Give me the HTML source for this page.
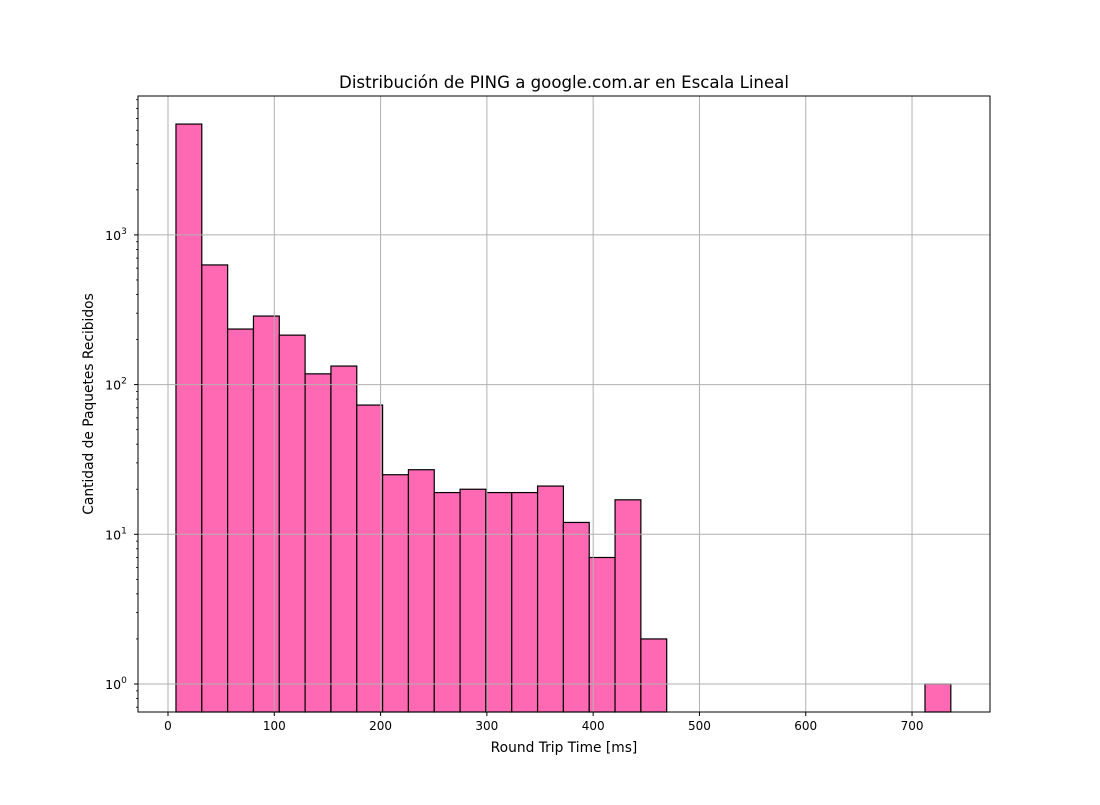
<!DOCTYPE html>
<html><head><meta charset="utf-8"><style>
body{margin:0;background:#fff}
svg text{font-family:"DejaVu Sans","Liberation Sans",sans-serif;fill:#000}
</style></head><body>
<svg id="chart" width="1100" height="800" viewBox="0 0 1100 800" xmlns="http://www.w3.org/2000/svg">
<rect width="1100" height="800" fill="#fff"/>
<text x="564" y="88" font-size="16.6" text-anchor="middle">Distribución de PING a google.com.ar en Escala Lineal</text>
<text x="564" y="752" font-size="13.8" text-anchor="middle">Round Trip Time [ms]</text>
<text transform="translate(93,404) rotate(-90)" font-size="13.8" text-anchor="middle">Cantidad de Paquetes Recibidos</text>
<g id="bars"></g>
<g id="grid"></g>
<g id="axes"></g>
</svg>
<script>
const binStart = 7.5;
const binWidth = 24.3;
const counts = [5500, 630, 235, 287, 214, 118, 133, 73, 25, 27, 19, 20, 19, 19, 21, 12, 7, 17, 2, 0, 0, 0, 0, 0, 0, 0, 0, 0, 0, 1];
const xTicks = [0, 100, 200, 300, 400, 500, 600, 700];
const yTickExps = [0, 1, 2, 3];

const L = 138, R = 990, T = 96, B = 712;
const x = v => 168 + v * 1.0629;
const y = v => 684 - Math.log10(v) * 149.7;
const NS = 'http://www.w3.org/2000/svg';
function mk(tag, attrs, parent) {
  const e = document.createElementNS(NS, tag);
  for (const k in attrs) e.setAttribute(k, attrs[k]);
  parent.appendChild(e);
  return e;
}
const gb = document.getElementById('bars'), gg = document.getElementById('grid'), ga = document.getElementById('axes');
counts.forEach((c, i) => {
  if (c <= 0) return;
  const x0 = x(binStart + i * binWidth), x1 = x(binStart + (i + 1) * binWidth);
  const yt = y(c);
  const r = mk('rect', {x: x0, y: yt, width: x1 - x0, height: B - yt, fill: '#ff69b4', stroke: '#000', 'stroke-width': 1.2}, gb);
  
  
});
xTicks.forEach(t => {
  const px = x(t);
  const g = mk('line', {x1: px, x2: px, y1: T, y2: B, stroke: '#b0b0b0', 'stroke-width': 1}, gg);
  
  
  mk('line', {x1: px, x2: px, y1: B, y2: B + 4, stroke: '#000'}, ga);
  const tx = mk('text', {x: px, y: B + 18, 'font-size': 12, 'text-anchor': 'middle'}, ga);
  tx.textContent = t;
  
  
});
yTickExps.forEach(e => {
  const py = y(Math.pow(10, e));
  const g = mk('line', {x1: L, x2: R, y1: py, y2: py, stroke: '#b0b0b0', 'stroke-width': 1}, gg);
  
  
  mk('line', {x1: L - 4, x2: L, y1: py, y2: py, stroke: '#000'}, ga);
  const tx = mk('text', {x: L - 22, y: py + 5, 'font-size': 12.5, 'text-anchor': 'middle'}, ga);
  tx.textContent = '10';
  
  
  const sp = mk('tspan', {dy: -6, 'font-size': 9}, tx);
  sp.textContent = e;
});
for (let e = -1; e <= 3; e++) {
  for (let m = 2; m <= 9; m++) {
    const v = m * Math.pow(10, e);
    const py = y(v);
    if (py < T || py > B) continue;
    mk('line', {x1: L - 2, x2: L, y1: py, y2: py, stroke: '#000', 'stroke-width': 0.8}, ga);
  }
}
const fr = mk('rect', {x: L, y: T, width: R - L, height: B - T, fill: 'none', stroke: '#000', 'stroke-width': 1}, ga);


</script>
</body></html>
